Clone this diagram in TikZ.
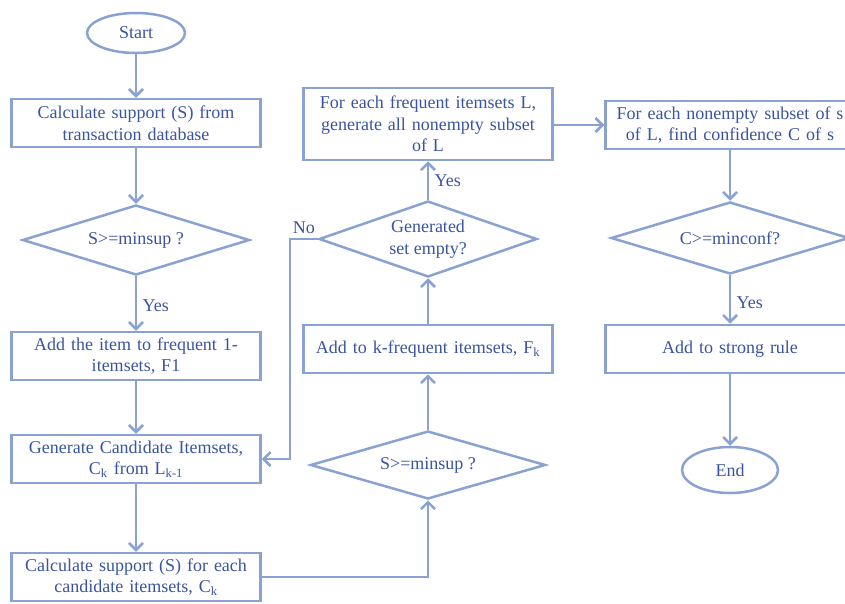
\documentclass[tikz,border=0pt]{standalone}
\usepackage{fontspec}
\setmainfont{Liberation Serif}
\usetikzlibrary{arrows.meta}
\usetikzlibrary{shapes.geometric}

\definecolor{flowline}{RGB}{137,162,210}
\definecolor{flowtext}{RGB}{58,84,160}

\begin{document}
\begin{tikzpicture}[x=1pt, y=-1pt,
    font=\fontsize{18}{21.5}\selectfont,
    every node/.style={text=flowtext},
    box/.style={draw=flowline, line width=2.5pt, rectangle, minimum width=249pt,
      minimum height=48pt, text width=244pt, align=center, inner sep=2pt},
    decision/.style={draw=flowline, line width=2.5pt, diamond, inner sep=0pt, aspect=3},
    terminal/.style={draw=flowline, line width=2.5pt, ellipse, inner sep=0pt},
    flow/.style={draw=flowline, line width=2.5pt, -{Straight Barb[length=7pt,width=14pt]}}]

      \useasboundingbox (0,0) rectangle (845,603);
      \clip (0,0) rectangle (845,603);

      % left column
      \node[terminal, minimum width=98pt, minimum height=40pt] (start) at (136,33) {Start};
      \node[box] (support) at (136,123) {Calculate support (S) from\\transaction database};
      \node[decision, minimum width=227pt, minimum height=70pt] (minsup) at (136,240) {S>=minsup ?};
      \node[box] (frequent) at (136,356) {Add the item to frequent 1-\\itemsets, F1};
      \node[box] (candidate) at (136,459) {Generate Candidate Itemsets,\\C\textsubscript{k} from L\textsubscript{k-1}};
      \node[box] (countk) at (136,577) {Calculate support (S) for each\\candidate itemsets, C\textsubscript{k}};

      % middle column
      \node[decision, minimum width=235pt, minimum height=68pt] (minsupk) at (428,465) {S>=minsup ?};
      \node[box] (addk) at (428,349) {Add to k-frequent itemsets, F\textsubscript{k}};
      \node[decision, minimum width=218pt, minimum height=76pt, align=center] (empty) at (428,239) {Generated\\set empty?};
      \node[box, minimum height=72pt] (subsets) at (428,124) {For each frequent itemsets L,\\generate all nonempty subset\\of L};

      % right column
      \node[box] (confidence) at (730,125) {For each nonempty subset of s\\of L, find confidence C of s};
      \node[decision, minimum width=238pt, minimum height=72pt] (minconf) at (730,238) {C>=minconf?};
      \node[box] (strong) at (730,349) {Add to strong rule};
      \node[terminal, minimum width=96pt, minimum height=46pt] (end) at (730,470) {End};

      \coordinate (nobend) at (290,239);

      \draw[flow] (start) -- (support);
      \draw[flow] (support) -- (minsup);
      \draw[flow] (minsup) -- node[right, xshift=2pt, yshift=-2pt] {Yes} (frequent);
      \draw[flow] (frequent) -- (candidate);
      \draw[flow] (candidate) -- (countk);
      \draw[flow] (countk.east) -| (minsupk.south);
      \draw[flow] (minsupk) -- (addk);
      \draw[flow] (addk) -- (empty);
      \draw[flow] (empty) -- node[right, xshift=2pt] {Yes} (subsets);
      \draw[flow] (empty.west) -- node[above, yshift=1pt] {No} (nobend) |- (candidate.east);
      \draw[flow] (subsets.east |- confidence.west) -- (confidence.west);
      \draw[flow] (confidence) -- (minconf);
      \draw[flow] (minconf) -- node[right, xshift=2pt, yshift=-3pt] {Yes} (strong);
      \draw[flow] (strong) -- (end);

    \end{tikzpicture}
\end{document}
